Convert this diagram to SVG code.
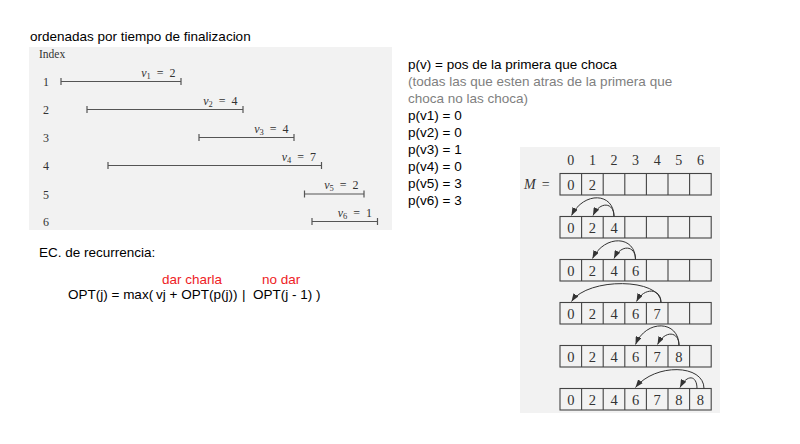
<svg xmlns="http://www.w3.org/2000/svg" width="800" height="444" viewBox="0 0 800 444">
<defs>
<marker id="ah" viewBox="0 0 8 6" refX="8" refY="3" markerWidth="8" markerHeight="6" markerUnits="userSpaceOnUse" orient="auto">
<path d="M0,0 L8,3 L0,6 z" fill="#333"/>
</marker>
<style>
.sans{font-family:"Liberation Sans",Arial,sans-serif;font-size:13.5px;fill:#000}
.gray{fill:#808080}
.red{fill:#ee1c25}
.serif{font-family:"Liberation Serif","Times New Roman",serif;fill:#333}
.idx{font-size:12px;text-anchor:middle}
.lab{font-size:12px;text-anchor:end}
.sub{font-size:8.5px}
.iv{stroke:#555;stroke-width:1.2;fill:none}
.cell{font-size:14.5px;text-anchor:middle}
.hdr{font-size:14px;text-anchor:middle}
.box{fill:none;stroke:#444;stroke-width:1.1}
.arc{fill:none;stroke:#333;stroke-width:1;marker-end:url(#ah)}
</style>
</defs>
<rect width="800" height="444" fill="#fff"/>

<g id="title"><text class="sans" x="30" y="41">ordenadas por tiempo de finalizacion</text></g>

<g id="intervals-panel">
<rect x="29" y="47" width="363" height="183" fill="#f2f2f2"/>
<text class="serif" x="39" y="57.5" font-size="11.5px">Index</text>
<g id="iv1">
<text class="serif idx" x="46" y="86">1</text>
<path class="iv" d="M61,81.5H181M61,78V85M181,78V85"/>
<text class="serif lab" x="175.5" y="76.5"><tspan font-style="italic">v</tspan><tspan class="sub" dy="2">1</tspan><tspan dx="6" dy="-2">=</tspan><tspan dx="6">2</tspan></text>
</g>
<g id="iv2">
<text class="serif idx" x="46" y="114">2</text>
<path class="iv" d="M87,109.5H243M87,106V113M243,106V113"/>
<text class="serif lab" x="237.5" y="104.5"><tspan font-style="italic">v</tspan><tspan class="sub" dy="2">2</tspan><tspan dx="6" dy="-2">=</tspan><tspan dx="6">4</tspan></text>
</g>
<g id="iv3">
<text class="serif idx" x="46" y="142">3</text>
<path class="iv" d="M199,137.5H294M199,134V141M294,134V141"/>
<text class="serif lab" x="288.5" y="132.5"><tspan font-style="italic">v</tspan><tspan class="sub" dy="2">3</tspan><tspan dx="6" dy="-2">=</tspan><tspan dx="6">4</tspan></text>
</g>
<g id="iv4">
<text class="serif idx" x="46" y="170">4</text>
<path class="iv" d="M108,165.5H321.5M108,162V169M321.5,162V169"/>
<text class="serif lab" x="316" y="160.5"><tspan font-style="italic">v</tspan><tspan class="sub" dy="2">4</tspan><tspan dx="6" dy="-2">=</tspan><tspan dx="6">7</tspan></text>
</g>
<g id="iv5">
<text class="serif idx" x="46" y="198.5">5</text>
<path class="iv" d="M304.5,194H364M304.5,190.5V197.5M364,190.5V197.5"/>
<text class="serif lab" x="358.5" y="189"><tspan font-style="italic">v</tspan><tspan class="sub" dy="2">5</tspan><tspan dx="6" dy="-2">=</tspan><tspan dx="6">2</tspan></text>
</g>
<g id="iv6">
<text class="serif idx" x="46" y="226">6</text>
<path class="iv" d="M312,221.5H377.5M312,218V225M377.5,218V225"/>
<text class="serif lab" x="372" y="216.5"><tspan font-style="italic">v</tspan><tspan class="sub" dy="2">6</tspan><tspan dx="6" dy="-2">=</tspan><tspan dx="6">1</tspan></text>
</g>
</g>

<g id="pv-notes">
<text class="sans" x="408" y="69">p(v) = pos de la primera que choca</text>
<text class="sans gray" x="408" y="86">(todas las que esten atras de la primera que</text>
<text class="sans gray" x="408" y="103">choca no las choca)</text>
<text class="sans" x="408" y="120">p(v1) = 0</text>
<text class="sans" x="408" y="137">p(v2) = 0</text>
<text class="sans" x="408" y="154">p(v3) = 1</text>
<text class="sans" x="408" y="171">p(v4) = 0</text>
<text class="sans" x="408" y="188">p(v5) = 3</text>
<text class="sans" x="408" y="205">p(v6) = 3</text>
</g>

<g id="recurrence">
<text class="sans" x="39" y="257">EC. de recurrencia:</text>
<text class="sans red" x="162" y="284">dar charla</text>
<text class="sans red" x="262" y="284">no dar</text>
<text class="sans" x="68" y="299">OPT(j) = max(</text>
<text class="sans" x="156" y="299">vj + OPT(p(j))</text>
<text class="sans" x="242" y="299">|</text>
<text class="sans" x="253" y="299">OPT(j - 1)</text>
<text class="sans" x="316" y="299">)</text>
</g>

<g id="memo-panel">
<rect x="520" y="147" width="200" height="266" fill="#f2f2f2"/>
<g id="header">
<text class="serif hdr" x="570.8" y="165">0</text>
<text class="serif hdr" x="592.4" y="165">1</text>
<text class="serif hdr" x="614" y="165">2</text>
<text class="serif hdr" x="635.6" y="165">3</text>
<text class="serif hdr" x="657.2" y="165">4</text>
<text class="serif hdr" x="678.8" y="165">5</text>
<text class="serif hdr" x="700.4" y="165">6</text>
<text class="serif" x="524" y="189" font-size="14px"><tspan font-style="italic">M</tspan><tspan dx="6">=</tspan></text>
</g>
<g id="m-row1">
<rect class="box" x="560" y="173.5" width="151.2" height="21.5"/>
<path class="box" d="M581.6,173.5v21.5M603.2,173.5v21.5M624.8,173.5v21.5M646.4,173.5v21.5M668,173.5v21.5M689.6,173.5v21.5"/>
<text class="serif cell" x="570.8" y="189.5">0</text>
<text class="serif cell" x="592.4" y="189.5">2</text>
</g>
<g id="m-row2">
<rect class="box" x="560" y="216.5" width="151.2" height="21.5"/>
<path class="box" d="M581.6,216.5v21.5M603.2,216.5v21.5M624.8,216.5v21.5M646.4,216.5v21.5M668,216.5v21.5M689.6,216.5v21.5"/>
<text class="serif cell" x="570.8" y="232.5">0</text>
<text class="serif cell" x="592.4" y="232.5">2</text>
<text class="serif cell" x="614" y="232.5">4</text>
</g>
<g id="m-row3">
<rect class="box" x="560" y="259.5" width="151.2" height="21.5"/>
<path class="box" d="M581.6,259.5v21.5M603.2,259.5v21.5M624.8,259.5v21.5M646.4,259.5v21.5M668,259.5v21.5M689.6,259.5v21.5"/>
<text class="serif cell" x="570.8" y="275.5">0</text>
<text class="serif cell" x="592.4" y="275.5">2</text>
<text class="serif cell" x="614" y="275.5">4</text>
<text class="serif cell" x="635.6" y="275.5">6</text>
</g>
<g id="m-row4">
<rect class="box" x="560" y="302.5" width="151.2" height="21.5"/>
<path class="box" d="M581.6,302.5v21.5M603.2,302.5v21.5M624.8,302.5v21.5M646.4,302.5v21.5M668,302.5v21.5M689.6,302.5v21.5"/>
<text class="serif cell" x="570.8" y="318.5">0</text>
<text class="serif cell" x="592.4" y="318.5">2</text>
<text class="serif cell" x="614" y="318.5">4</text>
<text class="serif cell" x="635.6" y="318.5">6</text>
<text class="serif cell" x="657.2" y="318.5">7</text>
</g>
<g id="m-row5">
<rect class="box" x="560" y="345.5" width="151.2" height="21.5"/>
<path class="box" d="M581.6,345.5v21.5M603.2,345.5v21.5M624.8,345.5v21.5M646.4,345.5v21.5M668,345.5v21.5M689.6,345.5v21.5"/>
<text class="serif cell" x="570.8" y="361.5">0</text>
<text class="serif cell" x="592.4" y="361.5">2</text>
<text class="serif cell" x="614" y="361.5">4</text>
<text class="serif cell" x="635.6" y="361.5">6</text>
<text class="serif cell" x="657.2" y="361.5">7</text>
<text class="serif cell" x="678.8" y="361.5">8</text>
</g>
<g id="m-row6">
<rect class="box" x="560" y="388.5" width="151.2" height="21.5"/>
<path class="box" d="M581.6,388.5v21.5M603.2,388.5v21.5M624.8,388.5v21.5M646.4,388.5v21.5M668,388.5v21.5M689.6,388.5v21.5"/>
<text class="serif cell" x="570.8" y="404.5">0</text>
<text class="serif cell" x="592.4" y="404.5">2</text>
<text class="serif cell" x="614" y="404.5">4</text>
<text class="serif cell" x="635.6" y="404.5">6</text>
<text class="serif cell" x="657.2" y="404.5">7</text>
<text class="serif cell" x="678.8" y="404.5">8</text>
<text class="serif cell" x="700.4" y="404.5">8</text>
</g>
</g>

<g id="connectors">
<path class="arc" d="M614,216.5C614,192.5 584,191 571.5,215.5"/>
<path class="arc" d="M614,216.5C614,202 600,201 593,215.5"/>
<path class="arc" d="M635.5,259.5C635.5,235.5 605,234 592.5,258.5"/>
<path class="arc" d="M635.5,259.5C635.5,245 621,244 614,258.5"/>
<path class="arc" d="M661,302.5C661,278 588,277 571.5,301.5"/>
<path class="arc" d="M661,302.5C661,288 644,287 636.5,301.5"/>
<path class="arc" d="M679,345.5C679,320 646,319 635.5,344.5"/>
<path class="arc" d="M679,345.5C679,331 665,330 657.5,344.5"/>
<path class="arc" d="M704,388.5C704,364 655,363 635.5,387.5"/>
<path class="arc" d="M697,388.5C697,375 687,374 680,387.5"/>
</g>
</svg>
